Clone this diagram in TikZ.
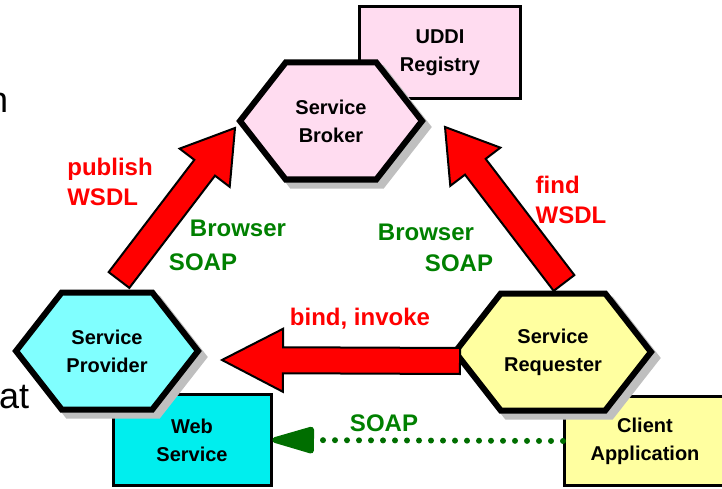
\documentclass[tikz,border=0pt]{standalone}
\usepackage{fontspec}
\setmainfont{Liberation Sans}
\usetikzlibrary{positioning,calc,shapes.symbols,shadows,arrows.meta}
\pgfdeclarelayer{back}
\pgfsetlayers{back,main}

\definecolor{brokerpink}{RGB}{255,220,240}
\definecolor{provcyan}{RGB}{128,255,255}
\definecolor{webcyan}{RGB}{0,238,238}
\definecolor{reqyellow}{RGB}{255,255,160}
\definecolor{soapgreen}{RGB}{0,128,0}
\definecolor{dotgreen}{RGB}{0,110,0}

\tikzstyle{every node}=[font=\bfseries\fontsize{20}{28}\selectfont]
\tikzstyle{hexa}=[signal,signal to=east and west,signal pointer angle=104,
  minimum width=182pt,minimum height=117pt,draw,line width=6pt,align=center,
  general shadow={fill=black!25,draw=black!25,line width=6pt,shadow xshift=6pt,shadow yshift=-6pt}]
\tikzstyle{box}=[rectangle,draw,line width=3pt,minimum width=158pt,minimum height=91pt,align=center]
\tikzstyle{redlabel}=[text=red,font=\bfseries\fontsize{24}{30}\selectfont,align=left]
\tikzstyle{greenlabel}=[text=soapgreen,font=\bfseries\fontsize{24}{30}\selectfont]
\tikzstyle{slidetext}=[anchor=base west,inner sep=0pt,font=\fontsize{36}{40}\selectfont]
\tikzstyle{fat}=[fill=red,draw=black,line width=2pt,line join=miter]

% fat block arrow: tail, tip, head length
\newcommand{\fatarrow}[3]{%
  \coordinate (fatneck) at ($(#2)!#3!(#1)$);
  \draw[fat] ($(#1)!13pt!90:(#2)$) -- ($(fatneck)!13pt!90:(#2)$)
    -- ($(fatneck)!31.5pt!90:(#2)$) -- (#2)
    -- ($(fatneck)!31.5pt!-90:(#2)$) -- ($(fatneck)!13pt!-90:(#2)$)
    -- ($(#1)!13pt!-90:(#2)$) -- cycle;
}

\begin{document}
\begin{tikzpicture}[x=1pt,y=-1pt,on grid]
	\path[use as bounding box,clip] (0,0) rectangle (722,489);

	\node(txtn)[slidetext] at (-12,113) {n};
	\node(txtat)[slidetext] at (-1,408) {at};

	\node(broker)[hexa,fill=brokerpink] at (331,121) {Service\\Broker};
	\node(prov)[hexa,fill=provcyan,below left=230pt and 224pt of broker] {Service\\Provider};
	\node(req)[hexa,fill=reqyellow,below right=231pt and 222pt of broker] {Service\\Requester};

	\begin{pgfonlayer}{back}
		\node(uddi)[box,fill=brokerpink,minimum width=161pt,minimum height=92pt,
			above right=68pt and 109pt of broker] {UDDI\\Registry};
		\node(web)[box,fill=webcyan,below right=89pt and 85pt of prov] {Web\\Service};
		\node(client)[box,fill=reqyellow,minimum width=161pt,minimum height=89pt,
			below right=89pt and 92pt of req] {Client\\Application};
	\end{pgfonlayer}

	\coordinate(pubtail) at ($(prov)+(12,-71)$);
	\coordinate(pubtip) at ($(broker)+(-96,7)$);
	\coordinate(findtail) at ($(req)+(11,-69)$);
	\coordinate(findtip) at ($(broker)+(114,6)$);
	\coordinate(bindtail) at ($(req)+(-93,9)$);
	\coordinate(bindtip) at ($(prov)+(115,9)$);
	\fatarrow{pubtail}{pubtip}{50pt}
	\fatarrow{findtail}{findtip}{50pt}
	\fatarrow{bindtail}{bindtip}{61pt}

	\draw[dotgreen,line width=6pt,line cap=round,dash pattern=on 0pt off 12pt,
		-{Triangle[length=50pt,width=27pt,round]}] (client.west) -- (web.east);

	\node(pub)[redlabel] at (110,182) {publish\\WSDL};
	\node(find)[redlabel] at (571,200) {find\\WSDL};
	\node(bind)[redlabel] at (360,319) {bind, invoke};
	\node(brw1)[greenlabel] at (238,228) {Browser};
	\node(soap1)[greenlabel] at (203,262) {SOAP};
	\node(brw2)[greenlabel] at (426,232) {Browser};
	\node(soap2)[greenlabel] at (459,263) {SOAP};
	\node(soap3)[greenlabel] at (384,423) {SOAP};
\end{tikzpicture}
\end{document}
